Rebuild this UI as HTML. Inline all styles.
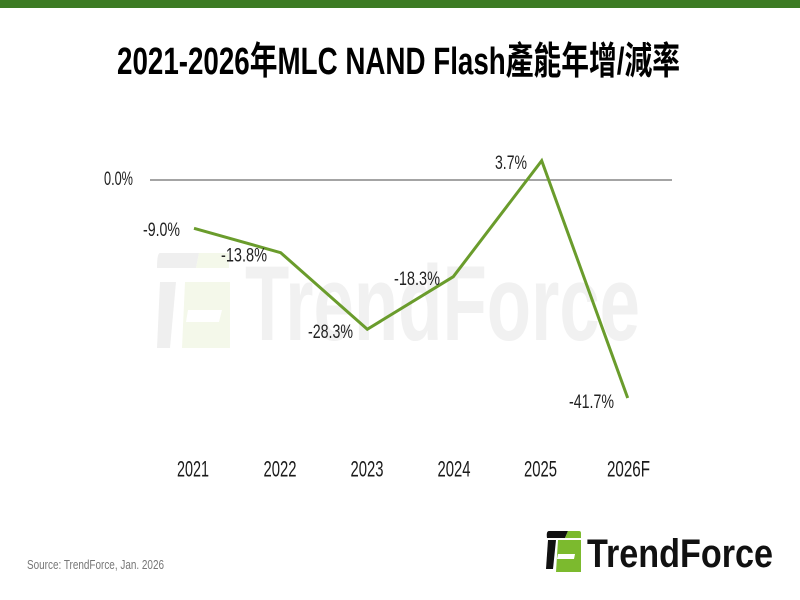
<!DOCTYPE html>
<html>
<head>
<meta charset="utf-8">
<style>
  html, body { margin: 0; padding: 0; background: #fff; }
  body { width: 800px; height: 600px; overflow: hidden; }
  svg { display: block; }
</style>
</head>
<body>
<svg width="800" height="600" viewBox="0 0 800 600" xmlns="http://www.w3.org/2000/svg">
  <rect x="0" y="0" width="800" height="600" fill="#ffffff"/>
  <!-- top green bar -->
  <rect x="0" y="0" width="800" height="8" fill="#3d7b24"/>

  <!-- title -->
  <text x="117" y="74" font-family="'Liberation Sans','Noto Sans CJK TC',sans-serif" font-weight="bold" font-size="38" fill="#000" textLength="563" lengthAdjust="spacingAndGlyphs">2021-2026年MLC NAND Flash產能年增/減率</text>

  <!-- watermark -->
  <g>
    <path d="M160 253 L199 253 L196 268 L157 268 Q157 253 160 253 Z" fill="#efefef"/>
    <path d="M199 253 L229 253 L229 268 L196 268 Z" fill="#f4f8ea"/>
    <path d="M160 282 L176 282 L170 348 L157 348 Z" fill="#efefef"/>
    <path d="M185 282 L230 282 L230 348 L182 348 Z" fill="#f4f8ea"/>
    <path d="M188 310 L222 310 L219 322 L186 322 Z" fill="#ffffff"/>
    <text x="245" y="340" font-family="'Liberation Sans',sans-serif" font-weight="bold" font-size="107" fill="#f1f1f1" textLength="395" lengthAdjust="spacingAndGlyphs">TrendForce</text>
  </g>

  <!-- zero line -->
  <line x1="150" y1="180" x2="672" y2="180" stroke="#6e6e6e" stroke-width="1.2"/>

  <!-- series -->
  <polyline points="194,228.3 280.7,252.7 367.3,329.3 453.3,276.7 541.7,160.7 627.7,398" fill="none" stroke="#6a9c2c" stroke-width="3" stroke-linejoin="miter"/>

  <!-- labels -->
  <g font-family="'Liberation Sans',sans-serif" font-size="19" fill="#222">
    <text x="104" y="185" textLength="29" lengthAdjust="spacingAndGlyphs">0.0%</text>
    <text x="143" y="236" textLength="37" lengthAdjust="spacingAndGlyphs">-9.0%</text>
    <text x="221" y="261.5" textLength="46" lengthAdjust="spacingAndGlyphs">-13.8%</text>
    <text x="308" y="338" textLength="45" lengthAdjust="spacingAndGlyphs">-28.3%</text>
    <text x="394" y="285" textLength="46" lengthAdjust="spacingAndGlyphs">-18.3%</text>
    <text x="495" y="169" textLength="32" lengthAdjust="spacingAndGlyphs">3.7%</text>
    <text x="569" y="408" textLength="45" lengthAdjust="spacingAndGlyphs">-41.7%</text>
  </g>

  <!-- x axis labels -->
  <g font-family="'Liberation Sans',sans-serif" font-size="22" fill="#1a1a1a">
    <text x="177" y="476.5" textLength="32" lengthAdjust="spacingAndGlyphs">2021</text>
    <text x="263.5" y="476.5" textLength="33" lengthAdjust="spacingAndGlyphs">2022</text>
    <text x="350.5" y="476.5" textLength="33" lengthAdjust="spacingAndGlyphs">2023</text>
    <text x="437.5" y="476.5" textLength="33" lengthAdjust="spacingAndGlyphs">2024</text>
    <text x="524" y="476.5" textLength="33" lengthAdjust="spacingAndGlyphs">2025</text>
    <text x="607" y="476.5" textLength="43" lengthAdjust="spacingAndGlyphs">2026F</text>
  </g>

  <!-- source -->
  <text x="27" y="569" font-family="'Liberation Sans',sans-serif" font-size="13" fill="#777" textLength="137" lengthAdjust="spacingAndGlyphs">Source: TrendForce, Jan. 2026</text>

  <!-- logo -->
  <g>
    <path d="M549 531 L568 531 L565 538 L547 538 Q546 531 549 531 Z" fill="#111"/>
    <path d="M568 531 L579 531 Q581 531 581 533 L581 538 L565 538 Z" fill="#7cba2e"/>
    <path d="M548 540 L556 540 L553 569 L546 569 Z" fill="#111"/>
    <path d="M558 540 L581 540 L581 572 L556 572 Z" fill="#7cba2e"/>
    <path d="M558 554 L575 554 L574 559 L557 559 Z" fill="#ffffff"/>
    <text x="587" y="567" font-family="'Liberation Sans',sans-serif" font-weight="bold" font-size="40" fill="#111" textLength="186" lengthAdjust="spacingAndGlyphs">TrendForce</text>
  </g>
</svg>
</body>
</html>
